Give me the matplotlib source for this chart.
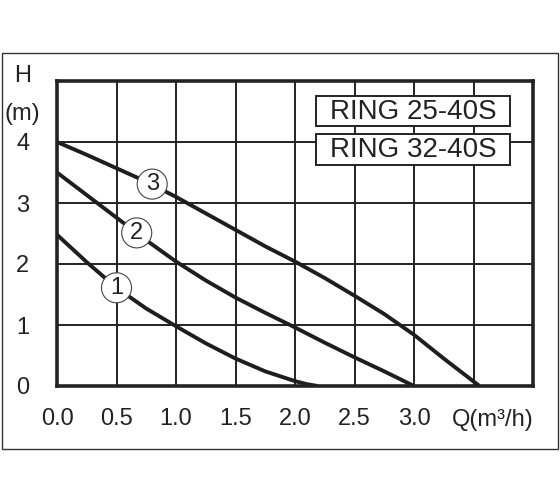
import numpy as np
import matplotlib
matplotlib.use("Agg")
import matplotlib.pyplot as plt
from matplotlib.patches import Rectangle

plt.rcParams['font.family'] = ['Liberation Sans', 'DejaVu Sans']

# pump curves: Q (m3/h) and H (m)
q1 = [0.0, 0.25, 0.5, 0.75, 1.0, 1.25, 1.5, 1.75, 2.0, 2.1, 2.19]
h1 = [2.48, 2.03, 1.61, 1.27, 0.98, 0.70, 0.45, 0.24, 0.08, 0.03, 0.0]
q2 = [0.0, 0.25, 0.5, 0.75, 1.0, 1.25, 1.5, 1.75, 2.0, 2.25, 2.5, 2.75, 3.0]
h2 = [3.5, 3.13, 2.76, 2.39, 2.04, 1.73, 1.45, 1.2, 0.96, 0.71, 0.47, 0.24, 0.0]
q3 = [0.0, 0.25, 0.5, 0.75, 1.0, 1.25, 1.5, 1.75, 2.0, 2.25, 2.5, 2.75, 3.0, 3.25, 3.55]
h3 = [4.0, 3.79, 3.57, 3.35, 3.1, 2.83, 2.56, 2.29, 2.04, 1.77, 1.48, 1.18, 0.84, 0.45, 0.0]

curve_labels = ['1', '2', '3']
label_q = [0.5, 0.67, 0.8]
label_h = [1.61, 2.51, 3.31]

models = ['RING 25-40S', 'RING 32-40S']

xticks = [0.0, 0.5, 1.0, 1.5, 2.0, 2.5, 3.0, 3.5, 4.0]
xticklabels = ['0.0', '0.5', '1.0', '1.5', '2.0', '2.5', '3.0', '', '']
yticks = [0, 1, 2, 3, 4, 5]
yticklabels = ['0', '1', '2', '3', '4', '']

fig = plt.figure(figsize=(5.6, 5.04), dpi=100)
fig.add_artist(Rectangle((2/560, 55/504), 556/560, 396/504, transform=fig.transFigure,
                         fill=False, edgecolor='#333333', linewidth=1.0))

ax = fig.add_axes([57/560, 118/504, 476/560, 305/504])
ax.set_xlim(0, 4)
ax.set_ylim(0, 5)
ax.set_xticks(xticks)
ax.set_xticklabels(xticklabels, fontsize=17)
ax.set_yticks(yticks)
ax.set_yticklabels(yticklabels, fontsize=17)
ax.tick_params(length=0, colors='#222222')
ax.tick_params(axis='x', pad=16)
ax.tick_params(axis='y', pad=20)
ax.grid(True, color='#222222', linewidth=1.4)
ax.set_axisbelow(True)
for s in ax.spines.values():
    s.set_linewidth(2.6)
    s.set_color('#222222')

for q, h in [(q1, h1), (q2, h2), (q3, h3)]:
    ax.plot(q, h, color='#1e1e1e', linewidth=2.8, solid_capstyle='butt', solid_joinstyle='round')

for t, q, h in zip(curve_labels, label_q, label_h):
    ax.text(q, h, t, fontsize=17, ha='center', va='center', color='#222222', zorder=5,
            bbox=dict(boxstyle='circle,pad=0.17', facecolor='white', edgecolor='#444444', linewidth=0.8))

# model name boxes
box_y = [4.26, 3.63]
for i, m in enumerate(models):
    ax.add_patch(Rectangle((2.18, box_y[i]), 1.63, 0.5, facecolor='white', edgecolor='#222222',
                           linewidth=1.4, zorder=4))
    ax.text(2.995, box_y[i] + 0.24, m, fontsize=20, ha='center', va='center', color='#222222', zorder=5)

ax.text(3.66, -0.55, 'Q(m³/h)', fontsize=17, ha='center', va='center', color='#222222', clip_on=False)
ax.text(-0.29, 5.09, 'H', fontsize=17, ha='center', va='center', color='#222222', clip_on=False)
ax.text(-0.29, 4.46, '(m)', fontsize=17, ha='center', va='center', color='#222222', clip_on=False)

fig.savefig('out.png', dpi=100)
